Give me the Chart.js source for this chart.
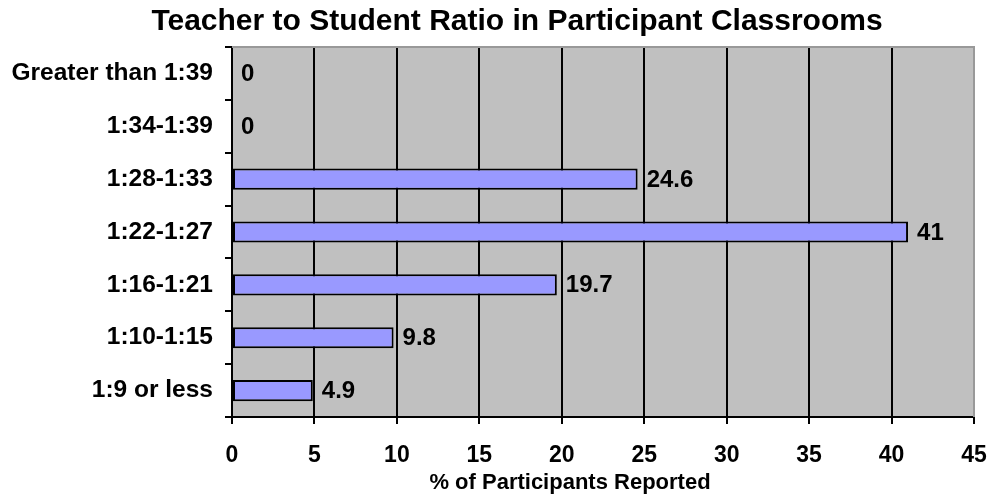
<!DOCTYPE html>
<html>
<head>
<meta charset="utf-8">
<script src="https://cdn.jsdelivr.net/npm/chart.js@4"></script>
<style>
  html, body { margin: 0; padding: 0; background: #fff; }
  #wrap { width: 993px; height: 497px; }
</style>
</head>
<body>
<div id="wrap"><canvas id="chart" width="993" height="497"></canvas></div>
<script>
const categories = ["Greater than 1:39", "1:34-1:39", "1:28-1:33", "1:22-1:27", "1:16-1:21", "1:10-1:15", "1:9 or less"];
const values = [0, 0, 24.6, 41, 19.7, 9.8, 4.9];
const xTicks = [0, 5, 10, 15, 20, 25, 30, 35, 40, 45];

const FONT = "'Liberation Sans', Arial, sans-serif";

// plot frame, value labels and the two titles
const extras = {
  id: "extras",
  beforeDatasetsDraw: (chart) => {
    const { ctx, chartArea: a } = chart;
    ctx.save();
    ctx.strokeStyle = "#999999";
    ctx.lineWidth = 2;
    ctx.beginPath();
    ctx.moveTo(a.left, a.top);
    ctx.lineTo(a.right, a.top);
    ctx.lineTo(a.right, a.bottom);
    ctx.stroke();
    ctx.restore();
  },
  afterDatasetsDraw: (chart) => {
    const { ctx } = chart;
    const meta = chart.getDatasetMeta(0);
    ctx.save();
    ctx.fillStyle = "#000";
    ctx.font = "bold 24px " + FONT;
    ctx.textAlign = "left";
    ctx.textBaseline = "middle";
    meta.data.forEach((bar, i) => {
      ctx.fillText(String(values[i]), bar.x + 9, bar.y + 1);
    });
    ctx.restore();
  },
  afterDraw: (chart) => {
    const { ctx } = chart;
    ctx.save();
    ctx.fillStyle = "#000";
    ctx.textAlign = "center";
    ctx.textBaseline = "middle";
    ctx.font = "bold 30px " + FONT;
    ctx.fillText("Teacher to Student Ratio in Participant Classrooms", 517, 22);
    ctx.font = "bold 22px " + FONT;
    ctx.fillText("% of Participants Reported", 570, 483);
    ctx.restore();
  },
};

const plotBg = {
  id: "plotBg",
  beforeDraw: (chart) => {
    const { ctx, chartArea: a } = chart;
    ctx.save();
    ctx.fillStyle = "#c0c0c0";
    ctx.fillRect(a.left, a.top, a.right - a.left, a.bottom - a.top);
    ctx.restore();
  },
};

const data = {
  labels: categories,
  datasets: [
    {
      data: values,
      backgroundColor: "#9999ff",
      borderColor: "#000",
      borderWidth: 2,
      borderSkipped: false,
      categoryPercentage: 1,
      barPercentage: 0.4,
    },
  ],
};

const config = {
  type: "bar",
  data: data,
  plugins: [plotBg, extras],
  options: {
    indexAxis: "y",
    responsive: false,
    animation: false,
    layout: { padding: { top: 47, right: 19, left: 0, bottom: 0 } },
    plugins: {
      legend: { display: false },
      tooltip: { enabled: false },
    },
    scales: {
      x: {
        min: 0,
        max: 45,
        afterFit: (scale) => {
          scale.height = 80;
          scale.paddingLeft = 0;
          scale.paddingRight = 0;
        },
        afterBuildTicks: (scale) => { scale.ticks = xTicks.map((v) => ({ value: v })); },
        ticks: {
          color: "#000",
          font: { family: FONT, size: 23, weight: "bold" },
          padding: 18,
          maxRotation: 0,
        },
        grid: {
          color: "#000",
          lineWidth: 2,
          tickLength: 7,
          drawOnChartArea: true,
        },
        border: { color: "#000", width: 2 },
      },
      y: {
        afterFit: (scale) => {
          scale.width = 232;
          scale.paddingTop = 0;
          scale.paddingBottom = 0;
        },
        ticks: {
          color: "#000",
          font: { family: FONT, size: 24.5, weight: "bold" },
          padding: 12,
        },
        grid: {
          offset: true,
          color: "#000",
          lineWidth: 2,
          tickLength: 7,
          drawOnChartArea: false,
        },
        border: { color: "#000", width: 2 },
      },
    },
  },
};

const chart = new Chart(document.querySelector("#chart").getContext("2d"), config);
</script>
</body>
</html>
